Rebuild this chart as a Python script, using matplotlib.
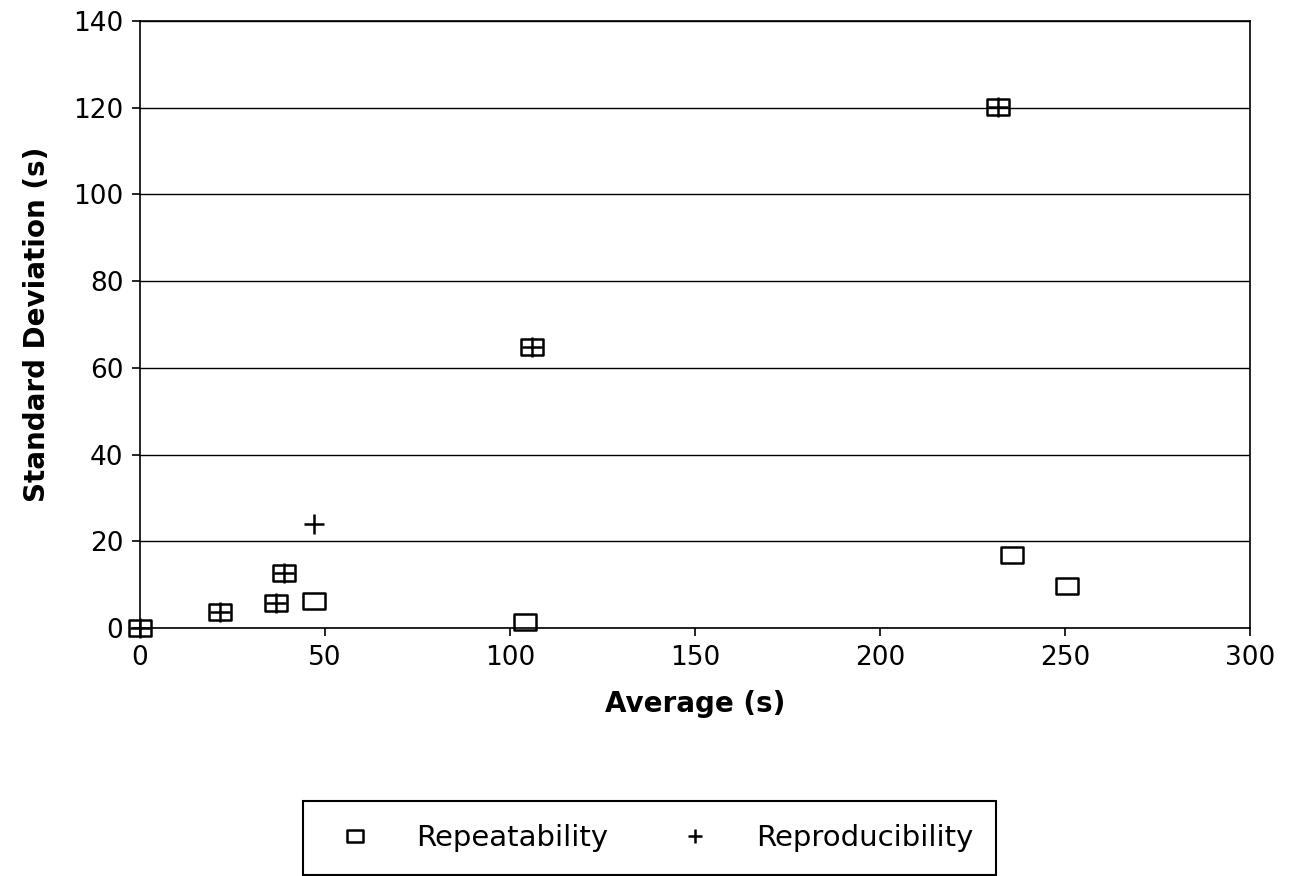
import matplotlib.pyplot as plt
from matplotlib.path import Path

# data
rep_x = [0, 21.6, 36.7, 39.0, 47.1, 104.1, 105.9, 231.9, 235.7, 250.5]
rep_y = [0, 3.7, 5.9, 12.6, 6.2, 1.5, 64.9, 120.2, 16.8, 9.7]
repro_x = [0, 21.6, 36.7, 39.0, 47.1, 105.9, 231.9]
repro_y = [0, 3.7, 5.9, 12.6, 24.0, 64.9, 120.2]

x_ticks = [0, 50, 100, 150, 200, 250, 300]
y_ticks = [0, 20, 40, 60, 80, 100, 120, 140]

plt.rcParams['font.family'] = ['DejaVu Sans']

# wide rectangle marker
rect = Path([(-1, -0.72), (1, -0.72), (1, 0.72), (-1, 0.72), (-1, -0.72)],
            [Path.MOVETO, Path.LINETO, Path.LINETO, Path.LINETO, Path.CLOSEPOLY])

fig = plt.figure(figsize=(12.94, 8.76), dpi=100)
ax = fig.add_axes([0.1082, 0.283, 0.8578, 0.693])

ax.plot(rep_x, rep_y, linestyle='none', marker=rect, markersize=16,
        markerfacecolor='none', markeredgecolor='black', markeredgewidth=1.8,
        label='Repeatability', zorder=3, clip_on=False)
ax.plot(repro_x, repro_y, linestyle='none', marker='+', markersize=14,
        markeredgecolor='black', markeredgewidth=1.8,
        label='Reproducibility', zorder=4, clip_on=False)

ax.set_xlim(0, 300)
ax.set_ylim(0, 140)
ax.set_xticks(x_ticks)
ax.set_yticks(y_ticks)
ax.yaxis.grid(True, color='black', linewidth=1)
ax.set_axisbelow(True)
for s in ax.spines.values():
    s.set_linewidth(1.2)
    s.set_color('black')
ax.tick_params(labelsize=19, length=6, width=1.2, direction='out', pad=6)

ax.set_xlabel('Average (s)', fontsize=20, fontweight='bold', labelpad=14)
ax.set_ylabel('Standard Deviation (s)', fontsize=20, fontweight='bold', labelpad=16)

leg = fig.legend(loc='center', bbox_to_anchor=(0.502, 0.0434),
                 ncol=2, fontsize=21, frameon=True, fancybox=False,
                 edgecolor='black', framealpha=1, markerscale=0.75,
                 handletextpad=1.07, columnspacing=2.0, borderpad=0.8)
leg.get_frame().set_linewidth(1.5)

fig.savefig('out.png', dpi=100)
